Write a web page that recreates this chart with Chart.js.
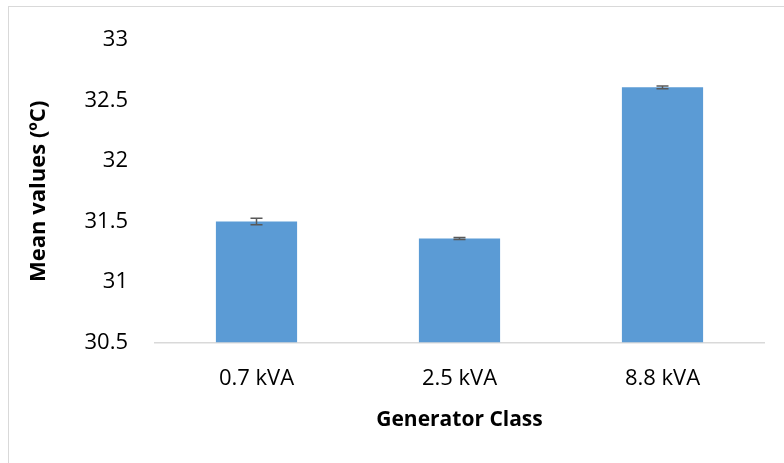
<!DOCTYPE html>
<html>
<head>
<meta charset="utf-8">
<script src="https://cdn.jsdelivr.net/npm/chart.js@4/dist/chart.umd.min.js"></script>
<style>
  html, body { margin: 0; padding: 0; background: #fff; }
  #wrap { position: relative; width: 784px; height: 463px; }
  #frame { position: absolute; left: 8px; top: 6px; width: 790px; height: 470px; border: 1px solid #d9d9d9; box-sizing: border-box; }
  canvas { position: absolute; left: 0; top: 0; }
</style>
</head>
<body>
<div id="wrap">
  <div id="frame"></div>
  <canvas id="grafico" width="784" height="463"></canvas>
</div>
<script>
// dados
const categorias = ['0.7 kVA', '2.5 kVA', '8.8 kVA'];
const medias = [31.50, 31.36, 32.61];
const erros = [0.027, 0.008, 0.012];
const yTicks = [30.5, 31, 31.5, 32, 32.5, 33];

const fonte = '"Open Sans", "Liberation Sans", sans-serif';

// barras de erro desenhadas pela escala y
const barrasErro = {
  id: 'barrasErro',
  afterDatasetsDraw(chart) {
    const { ctx, scales: { y } } = chart;
    const meta = chart.getDatasetMeta(0);
    ctx.save();
    ctx.strokeStyle = '#595959';
    ctx.lineWidth = 1.5;
    meta.data.forEach((bar, i) => {
      const x = bar.x;
      const yTop = y.getPixelForValue(medias[i] + erros[i]);
      const yBot = y.getPixelForValue(medias[i] - erros[i]);
      ctx.beginPath();
      ctx.moveTo(x, yTop); ctx.lineTo(x, yBot);
      ctx.moveTo(x - 6, yTop); ctx.lineTo(x + 6, yTop);
      ctx.moveTo(x - 6, yBot); ctx.lineTo(x + 6, yBot);
      ctx.stroke();
    });
    ctx.restore();
  }
};

new Chart(document.getElementById('grafico').getContext('2d'), {
  type: 'bar',
  data: {
    labels: categorias,
    datasets: [{
      data: medias,
      backgroundColor: '#5b9bd5',
      categoryPercentage: 0.4,
      barPercentage: 1.0,
      base: 30.5
    }]
  },
  options: {
    responsive: false,
    animation: false,
    layout: { padding: { top: 35, right: 20, left: 22, bottom: 26 } },
    plugins: { legend: { display: false }, tooltip: { enabled: false } },
    scales: {
      x: {
        grid: { display: false },
        border: { color: '#d9d9d9', width: 1.5 },
        ticks: { color: '#000', font: { family: fonte, size: 22 }, padding: 15 },
        title: { display: true, text: 'Generator Class', color: '#000', font: { family: fonte, size: 21, weight: 'bold' }, padding: { top: 1 } }
      },
      y: {
        min: 30.5,
        max: 33,
        afterBuildTicks: s => { s.ticks = yTicks.map(v => ({ value: v })); },
        afterFit: s => { s.width = 133; },
        grid: { display: false, drawTicks: false },
        border: { display: false },
        ticks: { color: '#000', font: { family: fonte, size: 22 }, padding: 27, callback: v => String(v) },
        title: { display: true, text: 'Mean values (ºC)', color: '#000', font: { family: fonte, size: 22, weight: 'bold' }, padding: { bottom: 0 } }
      }
    }
  },
  plugins: [barrasErro]
});
</script>
</body>
</html>
